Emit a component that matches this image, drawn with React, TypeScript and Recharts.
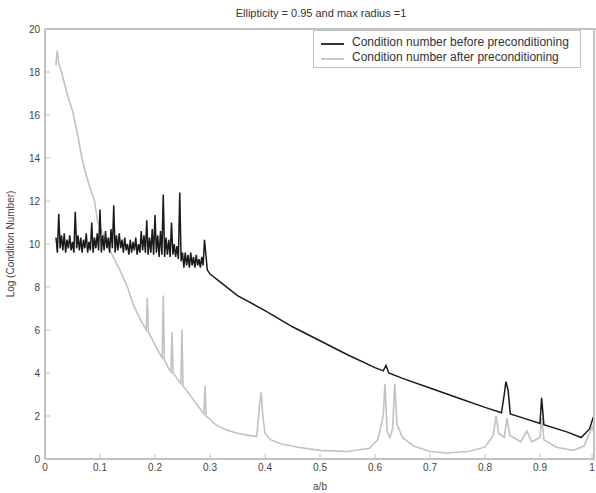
import React from 'react';
import { LineChart, Line, XAxis, YAxis } from 'recharts';

// x ticks and y ticks of the plot
const xTicks = [0, 0.1, 0.2, 0.3, 0.4, 0.5, 0.6, 0.7, 0.8, 0.9, 1];
const yTicks = [0, 2, 4, 6, 8, 10, 12, 14, 16, 18, 20];

// condition number before preconditioning (dark curve)
const beforeX = [
  0.02, 0.0225, 0.025, 0.0275, 0.03, 0.0325, 0.035, 0.0375, 0.04, 0.0425, 0.045, 0.0475,
  0.05, 0.0525, 0.055, 0.0575, 0.06, 0.0625, 0.065, 0.0675, 0.07, 0.0725, 0.075, 0.0775,
  0.08, 0.0825, 0.085, 0.0875, 0.09, 0.0925, 0.095, 0.0975, 0.1, 0.1025, 0.105, 0.1075,
  0.11, 0.1125, 0.115, 0.1175, 0.12, 0.1225, 0.125, 0.1275, 0.13, 0.1325, 0.135, 0.1375,
  0.14, 0.1425, 0.145, 0.1475, 0.15, 0.1525, 0.155, 0.1575, 0.16, 0.1625, 0.165, 0.1675,
  0.17, 0.1725, 0.175, 0.1775, 0.18, 0.1825, 0.185, 0.1875, 0.19, 0.1925, 0.195, 0.1975,
  0.2, 0.2025, 0.205, 0.2075, 0.21, 0.2125, 0.215, 0.2175, 0.22, 0.2225, 0.225, 0.2275,
  0.23, 0.2325, 0.235, 0.2375, 0.24, 0.2425, 0.245, 0.2475, 0.25, 0.2525, 0.255, 0.2575,
  0.26, 0.2625, 0.265, 0.2675, 0.27, 0.2725, 0.275, 0.2775, 0.28, 0.2825, 0.285, 0.2875,
  0.29, 0.295, 0.3, 0.32, 0.35, 0.4, 0.45, 0.5, 0.55, 0.6, 0.615, 0.62, 0.625, 0.65, 0.7,
  0.75, 0.8, 0.83, 0.835, 0.838, 0.842, 0.846, 0.87, 0.9, 0.903, 0.907, 0.95, 0.975, 0.99,
  0.997, 1,
];
const beforeY = [
  10.3, 9.6, 11.4, 9.8, 10.4, 9.7, 10.5, 9.6, 10.2, 9.8, 10.4, 9.7,
  10.1, 9.6, 11.5, 9.8, 10.4, 9.7, 10.3, 9.6, 10.2, 9.8, 10.5, 9.6,
  10.1, 9.7, 11.0, 9.6, 10.3, 9.8, 10.5, 9.7, 11.6, 9.6, 10.4, 9.7,
  10.6, 9.8, 10.3, 9.6, 10.7, 9.8, 11.8, 9.6, 10.4, 9.7, 10.5, 9.8,
  10.2, 9.6, 10.3, 9.7, 10.0, 9.5, 10.2, 9.6, 10.1, 9.7, 10.3, 9.5,
  10.0, 9.6, 10.6, 9.7, 10.4, 9.6, 11.1, 9.5, 10.3, 9.6, 10.7, 9.5,
  11.35, 9.6, 10.4, 9.4, 10.6, 9.5, 12.3, 9.4, 10.3, 9.5, 10.2, 9.4,
  11.0, 9.5, 10.0, 9.4, 9.9, 9.3, 12.4, 9.2, 9.6, 8.9, 9.6, 9.0,
  9.5, 8.9, 9.6, 9.0, 9.4, 8.9, 9.5, 9.0, 9.3, 8.9, 9.4, 9.0,
  10.2, 8.8, 8.6, 8.2, 7.6, 6.9, 6.15, 5.5, 4.85, 4.25, 4.1, 4.35, 4.0, 3.75, 3.3,
  2.85, 2.4, 2.15, 3.0, 3.6, 3.2, 2.1, 1.9, 1.65, 2.85, 1.6, 1.25, 1.0, 1.4,
  1.95, 1.5,
];

// condition number after preconditioning (light curve)
const afterX = [
  0.02, 0.022, 0.025, 0.03, 0.035, 0.04, 0.05, 0.06, 0.067, 0.075, 0.082, 0.09, 0.096, 0.1, 0.11,
  0.12, 0.136, 0.15, 0.16, 0.175, 0.184, 0.186, 0.188, 0.2, 0.213, 0.215, 0.217, 0.225, 0.229,
  0.231, 0.233, 0.24, 0.247, 0.249, 0.251, 0.26, 0.27, 0.28, 0.289, 0.291, 0.293, 0.3, 0.31,
  0.33, 0.35, 0.37, 0.385, 0.39, 0.393, 0.396, 0.4, 0.41, 0.43, 0.46, 0.5, 0.55, 0.59, 0.605,
  0.615, 0.618, 0.622, 0.627, 0.632, 0.636, 0.64, 0.65, 0.67, 0.7, 0.73, 0.77, 0.8, 0.815, 0.82,
  0.825, 0.835, 0.84, 0.845, 0.865, 0.876, 0.885, 0.9, 0.903, 0.907, 0.93, 0.96, 0.98, 0.995, 1,
];
const afterY = [
  18.3, 19.0, 18.4, 18.0, 17.5, 17.0, 16.2, 15.0, 14.0, 13.2, 12.6, 12.0, 11.0, 10.8, 10.2,
  9.6, 8.8, 8.0, 7.2, 6.4, 6.0, 7.5, 5.9, 5.3, 4.7, 7.6, 4.6, 4.2, 4.05,
  5.9, 4.0, 3.75, 3.5, 6.0, 3.4, 3.1, 2.75, 2.4, 2.1, 3.4, 2.0, 1.85, 1.6,
  1.35, 1.2, 1.1, 1.05, 2.5, 3.1, 2.0, 1.2, 0.9, 0.7, 0.55, 0.4, 0.35, 0.5, 0.9,
  2.0, 3.5, 1.3, 1.0, 1.4, 3.5, 1.6, 1.0, 0.6, 0.35, 0.28, 0.35, 0.55, 1.1, 2.0,
  1.2, 1.0, 1.9, 1.1, 0.8, 1.3, 0.8, 1.0, 1.9, 0.9, 0.55, 0.4, 0.6, 1.5, 1.0,
];

const beforeData = beforeX.map((x, i) => ({ x, y: beforeY[i] }));
const afterData = afterX.map((x, i) => ({ x, y: afterY[i] }));

const font = '"Liberation Sans", Arial, sans-serif';
const frame = '#c2c2c2';
const labelColor = '#444';

// bottom tick: label below the axis, short tick mark pointing into the plot
const XTick = (props: any) => {
  const { x, y, payload } = props;
  return (
    <g>
      <line x1={x} x2={x} y1={y - 5} y2={y - 10} stroke={frame} />
      <text x={x} y={y} dy="0.71em" textAnchor="middle" fontSize={10} fill={labelColor} fontFamily={font}>
        {payload.value}
      </text>
    </g>
  );
};

const YTick = (props: any) => {
  const { x, y, payload } = props;
  return (
    <g>
      <line x1={x + 5} x2={x + 10} y1={y} y2={y} stroke={frame} />
      <text x={x} y={y} dy="0.355em" textAnchor="end" fontSize={10} fill={labelColor} fontFamily={font}>
        {payload.value}
      </text>
    </g>
  );
};

export default function App() {
  return (
    <div style={{ position: 'absolute', left: 0, top: 0, width: 596, height: 493, background: '#fff', fontFamily: font }}>
      <div style={{ position: 'absolute', top: 7, left: 0, width: 642, textAlign: 'center', fontSize: 11, color: '#333' }}>
        Ellipticity = 0.95 and max radius =1
      </div>
      <LineChart width={596} height={493} margin={{ top: 29, right: 1, left: 0, bottom: 0 }}>
        <XAxis
          dataKey="x"
          type="number"
          domain={[0, 1]}
          ticks={xTicks}
          allowDataOverflow
          height={34}
          tickSize={0}
          tickMargin={5}
          tickLine={false}
          axisLine={{ stroke: frame, strokeWidth: 2 }}
          tick={XTick}
          label={{ value: 'a/b', position: 'insideBottom', offset: 3, fontSize: 10, fill: labelColor, fontFamily: font }}
        />
        <YAxis
          type="number"
          domain={[0, 20]}
          ticks={yTicks}
          allowDataOverflow
          width={45}
          tickSize={0}
          tickMargin={5}
          tickLine={false}
          axisLine={{ stroke: frame, strokeWidth: 2 }}
          tick={YTick}
          label={{ value: 'Log (Condition Number)', angle: -90, position: 'insideLeft', offset: 10, fontSize: 10, fill: labelColor, fontFamily: font, style: { textAnchor: 'middle' } }}
        />
        <Line
          data={afterData}
          dataKey="y"
          type="linear"
          stroke="#c2c2c2"
          strokeWidth={1.6}
          dot={false}
          isAnimationActive={false}
        />
        <Line
          data={beforeData}
          dataKey="y"
          type="linear"
          stroke="#1a1a1a"
          strokeWidth={1.5}
          dot={false}
          isAnimationActive={false}
        />
      </LineChart>
      {/* top and right edges of the axes box */}
      <div style={{ position: 'absolute', left: 45, top: 28, width: 551, height: 2, background: frame }} />
      <div style={{ position: 'absolute', left: 593, top: 28, width: 2, height: 432, background: frame }} />
      <div
        style={{
          position: 'absolute',
          left: 313,
          top: 30,
          width: 266,
          height: 36,
          border: `1px solid ${frame}`,
          background: '#fff',
          fontSize: 12,
          color: '#333',
        }}
      >
        <div style={{ position: 'absolute', left: 7, top: 12, width: 23, height: 2, background: '#333' }} />
        <div style={{ position: 'absolute', left: 38, top: 4, whiteSpace: 'nowrap' }}>Condition number before preconditioning</div>
        <div style={{ position: 'absolute', left: 7, top: 27, width: 23, height: 2, background: '#c8c8c8' }} />
        <div style={{ position: 'absolute', left: 38, top: 19, whiteSpace: 'nowrap' }}>Condition number after preconditioning</div>
      </div>
    </div>
  );
}
